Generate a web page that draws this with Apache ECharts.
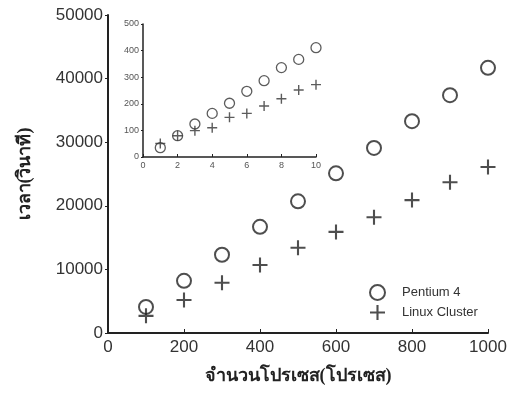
<!DOCTYPE html>
<html>
<head>
<meta charset="utf-8">
<script src="https://cdn.jsdelivr.net/npm/echarts@6/dist/echarts.min.js"></script>
<style>
  html, body { margin: 0; padding: 0; background: #fff; }
  #chart { width: 520px; height: 393px; }
</style>
</head>
<body>
<div id="chart"></div>
<script>
// main plot: processes vs time (seconds)
const procs = [100, 200, 300, 400, 500, 600, 700, 800, 900, 1000];
const pentium = [4100, 8200, 12300, 16700, 20700, 25100, 29100, 33300, 37400, 41700];
const cluster = [2700, 5200, 7900, 10700, 13400, 15900, 18200, 20900, 23700, 26100];

// inset: small process counts
const insetProcs = [1, 2, 3, 4, 5, 6, 7, 8, 9, 10];
const insetPentium = [35, 80, 124, 164, 202, 247, 287, 336, 367, 411];
const insetCluster = [51, 80, 99, 110, 149, 164, 192, 219, 252, 272];

const seriesNames = ['Pentium 4', 'Linux Cluster'];

const plus = 'path://M4.3,0H5.7V4.3H10V5.7H5.7V10H4.3V5.7H0V4.3H4.3Z';
const ink = '#222';
const thaiFont = '"Liberation Serif", "DejaVu Serif", serif';
const numFont = '"Liberation Sans", Arial, sans-serif';
const plain = v => String(v); // no thousands separator

const chart = echarts.init(document.getElementById('chart'));

function pairs(xs, ys) {
  return xs.map((x, i) => [x, ys[i]]);
}

const option = {
  backgroundColor: '#fff',
  animation: false,
  legend: {
    orient: 'vertical',
    left: 364,
    top: 279,
    itemWidth: 15,
    itemHeight: 15,
    itemGap: 4,
    textStyle: { fontFamily: numFont, fontSize: 13, color: '#333', padding: [0, 0, 0, 12] },
    data: seriesNames
  },
  grid: [
    { left: 108, right: 32, top: 15, bottom: 60 },
    { left: 143, right: 204, top: 24, bottom: 236 }
  ],
  xAxis: [
    {
      gridIndex: 0,
      type: 'value',
      min: 0, max: 1000, interval: 200,
      name: 'จำนวนโปรเซส(โปรเซส)',
      nameLocation: 'middle',
      nameGap: 34,
      nameTextStyle: { fontFamily: thaiFont, fontSize: 18, fontWeight: 'bold', color: '#222' },
      axisLine: { lineStyle: { color: ink, width: 2 } },
      axisTick: { inside: true, length: 4, lineStyle: { color: ink } },
      axisLabel: { fontFamily: numFont, fontSize: 17, color: '#333', margin: 6, formatter: plain },
      splitLine: { show: false }
    },
    {
      gridIndex: 1,
      type: 'value',
      min: 0, max: 10, interval: 2,
      axisLine: { lineStyle: { color: ink, width: 1.5 } },
      axisTick: { inside: true, length: 3, lineStyle: { color: ink } },
      axisLabel: { fontFamily: numFont, fontSize: 9, color: '#555', margin: 4, formatter: plain },
      splitLine: { show: false }
    }
  ],
  yAxis: [
    {
      gridIndex: 0,
      type: 'value',
      min: 0, max: 50000, interval: 10000,
      name: 'เวลา(วินาที)',
      nameLocation: 'middle',
      nameGap: 74,
      nameRotate: 90,
      nameTextStyle: { fontFamily: thaiFont, fontSize: 18, fontWeight: 'bold', color: '#222' },
      axisLine: { show: true, lineStyle: { color: ink, width: 2 } },
      axisTick: { show: true, length: 3, lineStyle: { color: ink } },
      axisLabel: { fontFamily: numFont, fontSize: 17, color: '#333', margin: 5, formatter: plain },
      splitLine: { show: false }
    },
    {
      gridIndex: 1,
      type: 'value',
      min: 0, max: 500, interval: 100,
      axisLine: { show: true, lineStyle: { color: ink, width: 1.5 } },
      axisTick: { show: true, length: 2, lineStyle: { color: ink } },
      axisLabel: { fontFamily: numFont, fontSize: 9, color: '#555', margin: 4, formatter: plain },
      splitLine: { show: false }
    }
  ],
  series: [
    {
      name: seriesNames[0],
      type: 'scatter',
      xAxisIndex: 0, yAxisIndex: 0,
      symbol: 'circle',
      symbolSize: 14,
      itemStyle: { color: 'rgba(0,0,0,0)', borderColor: ink, borderWidth: 2 },
      data: pairs(procs, pentium)
    },
    {
      name: seriesNames[1],
      type: 'scatter',
      xAxisIndex: 0, yAxisIndex: 0,
      symbol: plus,
      symbolSize: 15,
      itemStyle: { color: ink },
      data: pairs(procs, cluster)
    },
    {
      name: 'inset-p4',
      type: 'scatter',
      xAxisIndex: 1, yAxisIndex: 1,
      symbol: 'circle',
      symbolSize: 10,
      itemStyle: { color: 'rgba(0,0,0,0)', borderColor: '#333', borderWidth: 1.3 },
      data: pairs(insetProcs, insetPentium)
    },
    {
      name: 'inset-cluster',
      type: 'scatter',
      xAxisIndex: 1, yAxisIndex: 1,
      symbol: plus,
      symbolSize: 10,
      itemStyle: { color: '#333' },
      data: pairs(insetProcs, insetCluster)
    }
  ]
};

chart.setOption(option);
</script>
</body>
</html>
